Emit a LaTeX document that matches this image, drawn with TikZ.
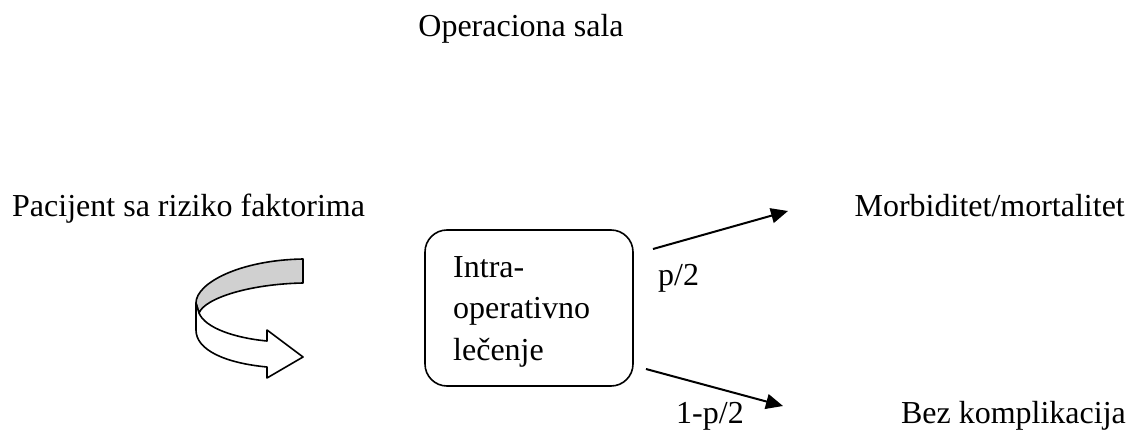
\documentclass[tikz,border=0pt]{standalone}
\usepackage{fontspec}
\setmainfont{Liberation Serif}
\usetikzlibrary{arrows.meta}
\definecolor{ribbon}{HTML}{D0D0D0}
\begin{document}
\begin{tikzpicture}[x=1pt,y=-1pt,
  txt/.style={inner sep=0pt,font=\fontsize{32}{41.5}\selectfont},
  procbox/.style={draw,line width=1.6pt,rounded corners=22pt,minimum width=208pt,minimum height=156pt,inner sep=0pt},
  flow/.style={line width=2pt,-{Triangle[length=17pt,width=15pt]}},
  outline/.style={line width=1.6pt,line join=round}]
\useasboundingbox (0,0) rectangle (1134,430);

% titles and outcomes
\node[txt,anchor=base] (room) at (521,37) {Operaciona sala};
\node[txt,anchor=base west] (patient) at (12,217) {Pacijent sa riziko faktorima};
\node[txt,anchor=base east] (morb) at (1125,217) {Morbiditet/mortalitet};
\node[txt,anchor=base east] (ok) at (1126,423) {Bez komplikacija};

% treatment box
\node[procbox] (box) at (529,308) {};
\node[txt,anchor=base west] (l1) at (453,277) {Intra-};
\node[txt,anchor=base west] (l2) at (453,318.5) {operativno};
\node[txt,anchor=base west] (l3) at (453,360) {lečenje};

% branches
\coordinate (upS) at (653,249);
\coordinate (upE) at (788,211);
\coordinate (dnS) at (646,369);
\coordinate (dnE) at (783,406);
\draw[flow] (upS) -- (upE);
\draw[flow] (dnS) -- (dnE);
\node[txt,anchor=base west] (pup) at (658,285) {p/2};
\node[txt,anchor=base west] (pdn) at (676,423) {1-p/2};

% curved ribbon arrow: back face
\filldraw[outline,fill=ribbon]
  (303,259) .. controls (240,260) and (196,283) .. (196,303)
  -- (199,313) .. controls (205,298) and (250,284) .. (303,283) -- cycle;
% front face with head
\filldraw[outline,fill=white]
  (199,313) .. controls (205,328) and (235,338) .. (267,341)
  -- (267,330) -- (303,357) -- (267,378) -- (267,367)
  .. controls (225,363) and (196,350) .. (196,330) -- (196,303) -- cycle;
\end{tikzpicture}
\end{document}
